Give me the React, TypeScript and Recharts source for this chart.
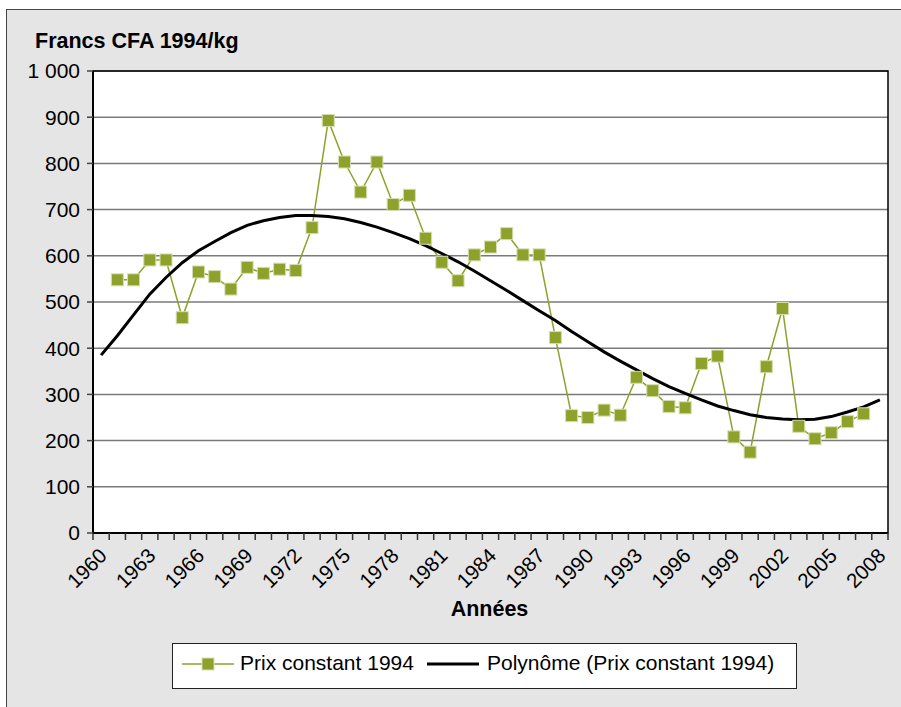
import React from 'react';
import { LineChart, Line, XAxis, YAxis, CartesianGrid, ReferenceArea } from 'recharts';

const years = [
    1960, 1961, 1962, 1963, 1964, 1965, 1966, 1967, 1968, 1969,
    1970, 1971, 1972, 1973, 1974, 1975, 1976, 1977, 1978, 1979,
    1980, 1981, 1982, 1983, 1984, 1985, 1986, 1987, 1988, 1989,
    1990, 1991, 1992, 1993, 1994, 1995, 1996, 1997, 1998, 1999,
    2000, 2001, 2002, 2003, 2004, 2005, 2006, 2007, 2008,
];

// Francs CFA 1994 par kg (pas de relevé en 1960 ni en 2008)
const prixConstant = [
    null, 548, 548, 591, 591, 466, 565, 555, 528, 575,
    562, 571, 568, 661, 893, 803, 738, 803, 711, 731,
    638, 586, 546, 602, 619, 648, 602, 602, 423, 254,
    250, 266, 255, 337, 308, 274, 271, 367, 383, 208,
    175, 360, 486, 231, 204, 217, 241, 258, null,
];

// courbe de tendance polynomiale
const polynome = [
    385, 427, 472, 517, 553, 585, 611, 631, 650, 666,
    676, 683, 687, 687, 685, 680, 672, 662, 650, 637,
    622, 605, 587, 567, 546, 525, 503, 481, 460, 436,
    414, 392, 372, 353, 334, 317, 302, 288, 275, 265,
    256, 250, 247, 245, 246, 252, 262, 273, 288,
];

const yearLabels = [1960, 1963, 1966, 1969, 1972, 1975, 1978, 1981, 1984, 1987, 1990, 1993, 1996, 1999, 2002, 2005, 2008];
const yTicks = [0, 100, 200, 300, 400, 500, 600, 700, 800, 900, 1000];

const seriesNames = ['Prix constant 1994', 'Polynôme (Prix constant 1994)'];

const data = years.map((year, i) => ({ year, prix: prixConstant[i], poly: polynome[i] }));

// tick marks sit between the years, labels on the years themselves
const boundaries = [...years.map((y) => y - 0.5), years[years.length - 1] + 0.5];
const xTicks = [...boundaries, ...yearLabels];

const FONT = '"Liberation Sans", Arial, Helvetica, sans-serif';
const GREEN = '#8da12b';

const formatY = (v: number) => (v >= 1000 ? `${Math.floor(v / 1000)} ${String(v % 1000).padStart(3, '0')}` : String(v));

const YearTick = (props: any) => {
    const { x, y, payload } = props;
    const v = payload.value;
    if (!Number.isInteger(v)) {
        return <line x1={x} x2={x} y1={y} y2={y + 7} stroke="#333" strokeWidth={1.5} />;
    }
    const ax = x + 7;
    const ay = y + 24;
    return (
        <text x={ax} y={ay} transform={`rotate(-45 ${ax} ${ay})`} textAnchor="end" fontSize={20.5} fontFamily={FONT} fill="#000">
            {v}
        </text>
    );
};

const SquareDot = (props: any) => {
    const { cx, cy } = props;
    if (cx == null || cy == null) return <g />;
    return <rect x={cx - 6} y={cy - 6} width={12} height={12} fill={GREEN} stroke="#d6ddb0" strokeWidth={1} />;
};

const App: React.FC = () => {
    return (
        <div style={{ position: 'absolute', left: 0, top: 0, width: 901, height: 707, overflow: 'hidden', background: '#fff', fontFamily: FONT }}>
            <div
                style={{
                    position: 'absolute', left: 6, top: 9, width: 920, height: 720,
                    background: '#e5e5e5', borderTop: '1px solid #444', borderLeft: '1px solid #444',
                }}
            />
            <div style={{ position: 'absolute', left: 35, top: 29, fontSize: 21.5, fontWeight: 'bold', color: '#000', whiteSpace: 'nowrap' }}>
                Francs CFA 1994/kg
            </div>
            <div style={{ position: 'absolute', left: 0, top: 0 }}>
                <LineChart width={901} height={707} data={data} margin={{ top: 71, right: 13, bottom: 144, left: 13 }}>
                    <CartesianGrid vertical={false} stroke="#7a7a7a" strokeWidth={1.5} fill="#fff" />
                    <XAxis
                        dataKey="year"
                        type="number"
                        domain={[1959.5, 2008.5]}
                        ticks={xTicks}
                        interval={0}
                        height={30}
                        tickSize={0}
                        tickMargin={0}
                        tickLine={false}
                        tick={<YearTick />}
                        axisLine={{ stroke: '#000', strokeWidth: 2 }}
                    />
                    <YAxis
                        width={80}
                        domain={[0, 1000]}
                        ticks={yTicks}
                        interval={0}
                        tickFormatter={formatY}
                        tickSize={6}
                        tickMargin={7}
                        tick={{ fill: '#000', fontSize: 21, fontFamily: FONT }}
                        tickLine={{ stroke: '#444', strokeWidth: 1.5 }}
                        axisLine={{ stroke: '#000', strokeWidth: 2 }}
                    />
                    <ReferenceArea x1={1959.5} x2={2008.5} y1={0} y2={1000} fill="none" stroke="#000" strokeWidth={1.5} />
                    <Line
                        dataKey="prix"
                        name={seriesNames[0]}
                        type="linear"
                        stroke={GREEN}
                        strokeWidth={1.5}
                        dot={<SquareDot />}
                        activeDot={false}
                        isAnimationActive={false}
                    />
                    <Line
                        dataKey="poly"
                        name={seriesNames[1]}
                        type="linear"
                        stroke="#000"
                        strokeWidth={3}
                        dot={false}
                        activeDot={false}
                        isAnimationActive={false}
                    />
                </LineChart>
            </div>
            <div style={{ position: 'absolute', left: 0, top: 597, width: 979, textAlign: 'center', fontSize: 21.5, fontWeight: 'bold', color: '#000' }}>
                Années
            </div>
            <div
                style={{
                    position: 'absolute', left: 172, top: 643, width: 625, height: 46,
                    background: '#fff', border: '1px solid #222', boxSizing: 'border-box', fontSize: 21, color: '#000',
                }}
            >
                <svg style={{ position: 'absolute', left: 9, top: 8 }} width={52} height={24}>
                    <line x1={0} x2={52} y1={12} y2={12} stroke={GREEN} strokeWidth={1.5} />
                    <rect x={20} y={6} width={12} height={12} fill={GREEN} stroke="#d6ddb0" strokeWidth={1} />
                </svg>
                <span style={{ position: 'absolute', left: 67, top: 7, whiteSpace: 'nowrap' }}>{seriesNames[0]}</span>
                <svg style={{ position: 'absolute', left: 254, top: 8 }} width={52} height={24}>
                    <line x1={0} x2={52} y1={12} y2={12} stroke="#000" strokeWidth={3} />
                </svg>
                <span style={{ position: 'absolute', left: 314, top: 7, whiteSpace: 'nowrap' }}>{seriesNames[1]}</span>
            </div>
        </div>
    );
};

export default App;
